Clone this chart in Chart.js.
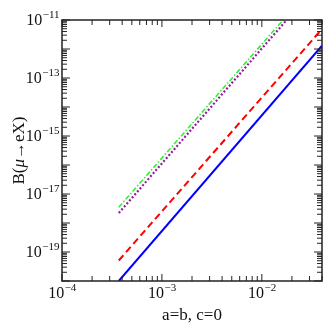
<!DOCTYPE html>
<html>
<head>
<meta charset="utf-8">
<script src="https://cdn.jsdelivr.net/npm/chart.js@4"></script>
<style>
  html, body { margin: 0; padding: 0; background: #fff; }
  #wrap { width: 324px; height: 325px; position: relative; }
</style>
</head>
<body>
<div id="wrap"><canvas id="c"></canvas></div>
<script>
/* ── B(μ→eX) vs a=b, c=0 — log-log ─────────────────────────────────────────── */

// ── Data ──────────────────────────────────────────────────────────────────────
const blueX   = [3.7e-4, 0.04];
const blueY   = [1.0e-20, 1.3e-12];
const redX    = [3.7e-4, 0.04];
const redY    = [5.1e-20, 4.9e-12];
const purpleX = [3.7e-4, 0.0177];
const purpleY = [2.2e-18, 1.0e-11];
const greenX  = [3.7e-4, 0.0163];
const greenY  = [3.5e-18, 1.0e-11];

const xRange  = [1e-4, 0.04];
const yRange  = [1e-20, 1e-11];
const xLabelExp = [-4, -3, -2];
const yLabelExp = [-11, -13, -15, -17, -19];

const SERIF = '"Liberation Serif", "DejaVu Serif", serif';

const pts = (xs, ys) => xs.map((x, i) => ({ x, y: ys[i] }));

// ── Frame, inward ticks and labels ────────────────────────────────────────────
const axesPlugin = {
  id: 'axes',
  afterDatasetsDraw(chart) {
    const { ctx, chartArea: a, scales } = chart;
    const sx = scales.x, sy = scales.y;
    ctx.save();
    ctx.strokeStyle = '#222';
    ctx.lineWidth = 1.3;

    // ticks, every decade and 2..9 within it
    const tick = (p, len, side) => {
      ctx.beginPath();
      if (side === 'x') {
        ctx.moveTo(p, a.bottom); ctx.lineTo(p, a.bottom - len);
        ctx.moveTo(p, a.top);    ctx.lineTo(p, a.top + len);
      } else {
        ctx.moveTo(a.left, p);  ctx.lineTo(a.left + len, p);
        ctx.moveTo(a.right, p); ctx.lineTo(a.right - len, p);
      }
      ctx.stroke();
    };
    ctx.lineWidth = 1;
    for (let e = -4; e <= -2; e++) {
      for (let m = 1; m <= 9; m++) {
        const v = m * Math.pow(10, e);
        if (v < xRange[0] * 0.999 || v > xRange[1] * 1.001) continue;
        tick(sx.getPixelForValue(v), m === 1 ? 7 : 5, 'x');
      }
    }
    for (let e = -20; e <= -11; e++) {
      for (let m = 1; m <= 9; m++) {
        const v = m * Math.pow(10, e);
        if (v < yRange[0] * 0.999 || v > yRange[1] * 1.001) continue;
        tick(sy.getPixelForValue(v), m === 1 ? 8 : 5, 'y');
      }
    }

    // frame
    ctx.lineWidth = 1.5;
    ctx.strokeRect(a.left, a.top, a.right - a.left, a.bottom - a.top);

    // tick labels: 10 with superscript exponent
    ctx.fillStyle = '#111';
    ctx.textBaseline = 'alphabetic';
    const big = '16px ' + SERIF, small = '11px ' + SERIF;
    const measure = (exp) => {
      ctx.font = big;  const w1 = ctx.measureText('10').width;
      ctx.font = small; const w2 = ctx.measureText('\u2212' + Math.abs(exp)).width;
      return [w1, w2];
    };
    const drawPow = (exp, x, base) => {
      const [w1] = measure(exp);
      ctx.textAlign = 'left';
      ctx.font = big;   ctx.fillText('10', x, base);
      ctx.font = small; ctx.fillText('\u2212' + Math.abs(exp), x + w1 + 0.5, base - 7);
    };
    xLabelExp.forEach(exp => {
      const [w1, w2] = measure(exp);
      const px = sx.getPixelForValue(Math.pow(10, exp));
      drawPow(exp, px - (w1 + w2) / 2, a.bottom + 17);
    });
    yLabelExp.forEach(exp => {
      const [w1, w2] = measure(exp);
      const py = sy.getPixelForValue(Math.pow(10, exp));
      drawPow(exp, a.left - 3 - w1 - w2, py + 5);
    });

    // axis titles
    ctx.font = '17px ' + SERIF;
    ctx.textAlign = 'center';
    ctx.fillText('a=b, c=0', (a.left + a.right) / 2, a.bottom + 39);

    ctx.translate(20, (a.top + a.bottom) / 2);
    ctx.rotate(-Math.PI / 2);
    const parts = [['B(', false], ['\u03bc', true], ['\u2192eX)', false]];
    let total = 0;
    parts.forEach(([t, it]) => {
      ctx.font = (it ? 'italic ' : '') + '17px ' + SERIF;
      total += ctx.measureText(t).width;
    });
    let cx = -total / 2;
    ctx.textAlign = 'left';
    ctx.textBaseline = 'middle';
    parts.forEach(([t, it]) => {
      ctx.font = (it ? 'italic ' : '') + '17px ' + SERIF;
      ctx.fillText(t, cx, 0);
      cx += ctx.measureText(t).width;
    });
    ctx.restore();
  },
};

// ── Chart ─────────────────────────────────────────────────────────────────────
new Chart(document.getElementById('c'), {
  type: 'scatter',
  data: {
    datasets: [
      { data: pts(blueX, blueY),     borderColor: '#0000ff', borderWidth: 2 },
      { data: pts(redX, redY),       borderColor: '#ff0000', borderWidth: 2, borderDash: [7, 4] },
      { data: pts(purpleX, purpleY), borderColor: '#951a9e', borderWidth: 2.2, borderDash: [2, 2] },
      { data: pts(greenX, greenY),   borderColor: '#33ee33', borderWidth: 1.6, borderDash: [5, 2, 1.5, 2] },
    ].map(d => ({ ...d, showLine: true, pointRadius: 0, fill: false, tension: 0 })),
  },
  options: {
    responsive: true, maintainAspectRatio: false,
    animation: false,
    layout: { padding: { left: 62, top: 20, right: 2, bottom: 44 } },
    plugins: { legend: { display: false }, tooltip: { enabled: false } },
    scales: {
      x: { type: 'logarithmic', min: xRange[0], max: xRange[1], display: false },
      y: { type: 'logarithmic', min: yRange[0], max: yRange[1], display: false },
    },
  },
  plugins: [axesPlugin],
});
</script>
</body>
</html>
